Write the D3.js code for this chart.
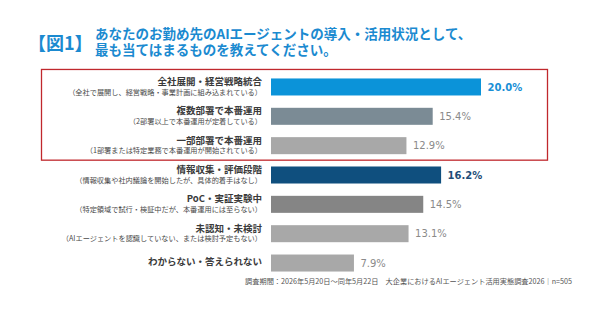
<!DOCTYPE html>
<html>
<head>
<meta charset="utf-8">
<script src="https://cdn.jsdelivr.net/npm/d3@7"></script>
<style>
  body { margin: 0; background: #fff; }
  svg { display: block; }
</style>
</head>
<body>
<script>
// data
const categories = ['全社展開・経営戦略統合', '複数部署で本番運用', '一部部署で本番運用', '情報収集・評価段階', 'PoC・実証実験中', '未認知・未検討', 'わからない・答えられない'];
const notes = ['（全社で展開し、経営戦略・事業計画に組み込まれている）', '（2部署以上で本番運用が定着している）', '（1部署または特定業務で本番運用が開始されている）', '（情報収集や社内議論を開始したが、具体的着手はなし）', '（特定領域で試行・検証中だが、本番運用には至らない）', '（AIエージェントを認識していない、または検討予定もない）', ''];
const values = [20.0, 15.4, 12.9, 16.2, 14.5, 13.1, 7.9];
const barColors = ['#0b93d9', '#7b8b95', '#a8a8a8', '#0f4f7e', '#858585', '#a8a8a8', '#a8a8a8'];
const valueColors = ['#1a8fd6', '#8a8a8a', '#8a8a8a', '#1f4e79', '#8a8a8a', '#8a8a8a', '#8a8a8a'];
const boldValues = [true, false, false, true, false, false, false];

const width = 590, height = 313;
const jp = '"Noto Sans CJK JP", "Noto Sans", sans-serif';

const svg = d3.select('body').append('svg')
    .attr('width', width)
    .attr('height', height);

// title
svg.append('text')
    .attr('x', 28).attr('y', 50)
    .attr('font-family', jp).attr('font-weight', 'bold')
    .attr('font-size', 18).attr('fill', '#1b8ad0')
    .text('【図1】');

const title = svg.append('text')
    .attr('font-family', jp).attr('font-weight', 'bold')
    .attr('font-size', 13.5).attr('fill', '#1b8ad0');
title.append('tspan').attr('x', 95).attr('y', 39).text('あなたのお勤め先のAIエージェントの導入・活用状況として、');
title.append('tspan').attr('x', 95).attr('y', 55).text('最も当てはまるものを教えてください。');

// scales
const y = d3.scaleBand()
    .domain(categories)
    .range([72.3, 277.7])
    .paddingInner(0.42)
    .paddingOuter(0.21);

const x = d3.scaleLinear()
    .domain([0, 20])
    .range([271, 481]);

// highlight box
svg.append('rect')
    .attr('x', 41.5)
    .attr('y', y(categories[0]) - 9)
    .attr('width', 506)
    .attr('height', y(categories[2]) + y.bandwidth() + 6 - (y(categories[0]) - 9))
    .attr('fill', 'none')
    .attr('stroke', '#c0282d')
    .attr('stroke-width', 1.3);

// bars
svg.selectAll('.bar')
    .data(values)
    .enter()
    .append('rect')
    .attr('class', 'bar')
    .attr('x', x(0))
    .attr('y', (d, i) => y(categories[i]))
    .attr('width', d => x(d) - x(0))
    .attr('height', y.bandwidth())
    .attr('fill', (d, i) => barColors[i]);

// value labels
svg.selectAll('.val')
    .data(values)
    .enter()
    .append('text')
    .attr('class', 'val')
    .attr('x', d => x(d) + 6.5)
    .attr('y', (d, i) => y(categories[i]) + y.bandwidth() / 2)
    .attr('dy', '0.36em')
    .attr('font-family', '"DejaVu Sans", Verdana, sans-serif')
    .attr('font-size', 10)
    .attr('font-weight', (d, i) => boldValues[i] ? 'bold' : 'normal')
    .attr('fill', (d, i) => valueColors[i])
    .text(d => d.toFixed(1) + '%');

// category labels
const labels = svg.selectAll('.lab')
    .data(categories)
    .enter()
    .append('g')
    .attr('class', 'lab')
    .attr('transform', d => 'translate(262,' + (y(d) + y.bandwidth() / 2) + ')');

labels.append('text')
    .attr('text-anchor', 'end')
    .attr('y', (d, i) => notes[i] ? -5.5 : -1)
    .attr('dy', '0.36em')
    .attr('font-family', jp).attr('font-weight', 'bold')
    .attr('font-size', 9.5).attr('fill', '#3a3a3a')
    .text(d => d);

labels.append('text')
    .attr('text-anchor', 'end')
    .attr('y', 5)
    .attr('dy', '0.36em')
    .attr('font-family', jp)
    .attr('font-size', 7.2).attr('fill', '#4a4a4a')
    .text((d, i) => notes[i]);

// footnote
svg.append('text')
    .attr('x', 572).attr('y', 281)
    .attr('dy', '0.36em')
    .attr('text-anchor', 'end')
    .attr('font-family', jp)
    .attr('font-size', 7.2).attr('fill', '#555')
    .text('調査期間：2026年5月20日～同年5月22日　大企業におけるAIエージェント活用実態調査2026｜n=505');
</script>
</body>
</html>
